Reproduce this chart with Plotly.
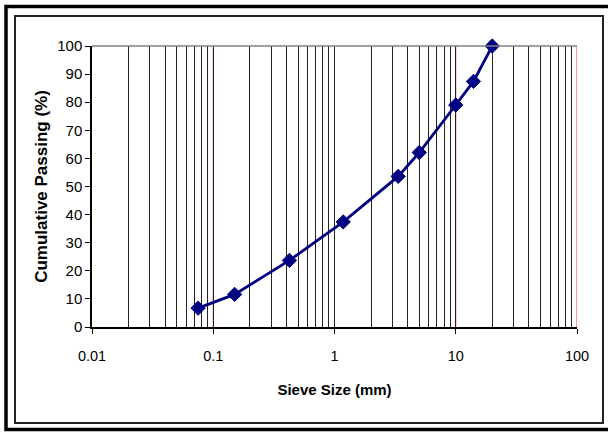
import plotly.graph_objects as go

sieve_mm = [0.075, 0.15, 0.425, 1.18, 3.35, 5, 10, 14, 20]
passing_pct = [6.7, 11.6, 23.7, 37.4, 53.6, 62.1, 79.0, 87.4, 100]
x_tickvals = [0.01, 0.1, 1, 10, 100]
x_ticktext = ["0.01", "0.1", "1", "10", "100"]

W, H = 608, 432
L, R, T, B = 92, 577, 46, 327

def px(x):
    return (x - L) / (R - L)

def py(y):
    return (B - y) / (B - T)

fig = go.Figure()
fig.add_trace(go.Scatter(
    x=sieve_mm, y=passing_pct, mode="lines+markers",
    line=dict(color="#000080", width=2.8),
    marker=dict(symbol="diamond", size=11, color="#000080",
                line=dict(color="#000080", width=1)),
    showlegend=False, cliponaxis=False,
))

font_family = "Liberation Sans, Arial, sans-serif"

shapes = [
    # top border of plot area
    dict(type="line", xref="paper", yref="paper", x0=0, x1=1, y0=1, y1=1,
         line=dict(color="#808080", width=1.5)),
    # outer thick frame
    dict(type="rect", xref="paper", yref="paper",
         x0=px(6), x1=px(625), y0=py(6.5), y1=py(429.5),
         line=dict(color="black", width=3.5), layer="above"),
    # inner thin frame
    dict(type="rect", xref="paper", yref="paper",
         x0=px(15), x1=px(603), y0=py(16), y1=py(423),
         line=dict(color="#222222", width=2), layer="above"),
]
# red major (decade) gridlines
for v in x_tickvals[1:]:
    shapes.append(dict(type="line", xref="x", yref="paper", x0=v, x1=v, y0=0, y1=1,
                       line=dict(color="#ff3030", width=1), layer="between"))

fig.update_layout(
    width=W, height=H,
    margin=dict(l=L, r=W - R, t=T, b=H - B),
    paper_bgcolor="white", plot_bgcolor="white",
    font=dict(family=font_family, color="black", size=14),
    xaxis=dict(
        type="log", range=[-2, 2],
        tickvals=x_tickvals, ticktext=x_ticktext,
        showgrid=False,
        minor=dict(dtick="D1", showgrid=True, gridcolor="#222222", gridwidth=1,
                   ticks=""),
        showline=True, linecolor="black", linewidth=1.5,
        ticks="outside", ticklen=5, tickcolor="black",
        ticklabelstandoff=10,
        tickfont=dict(size=14.5),
        title=dict(text="<b>Sieve Size (mm)</b>", font=dict(size=15), standoff=21),
        zeroline=False,
    ),
    yaxis=dict(
        range=[0, 100], dtick=10,
        showgrid=False,
        showline=True, linecolor="black", linewidth=1.5,
        ticks="outside", ticklen=5, tickcolor="black",
        tickfont=dict(size=15),
        title=dict(text="<b>Cumulative Passing (%)</b>", font=dict(size=17), standoff=5),
        zeroline=False,
    ),
    shapes=shapes,
)

fig.write_html("out.html", config={"displayModeBar": False},
               post_script="document.body.style.margin='0';")
